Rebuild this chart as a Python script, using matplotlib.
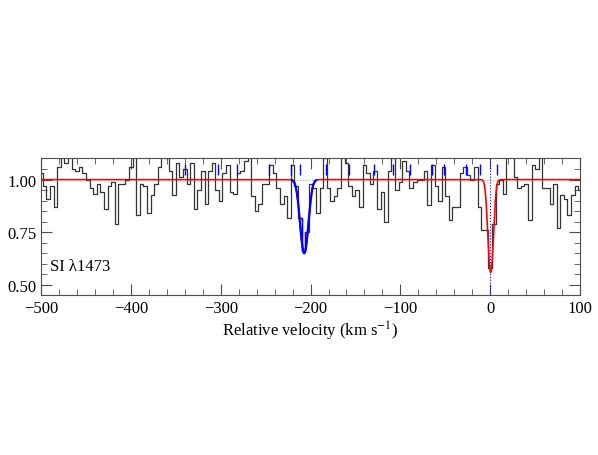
import numpy as np
import matplotlib
matplotlib.use("Agg")
import matplotlib.pyplot as plt
from matplotlib.ticker import MultipleLocator, FormatStrFormatter

plt.rcParams["font.family"] = ["Liberation Serif", "DejaVu Serif"]
plt.rcParams["mathtext.fontset"] = "stix"

# spectrum pixels, 4 km/s each (centres -500 ... 100)
velocity = np.arange(-500, 101, 4)
flux = [
    1.03, 0.97, 0.91, 0.97, 0.87, 1.06, 1.12, 1.08, 1.12, 1.05,
    1.04, 1.06, 1.03, 1.00, 0.96, 0.93, 0.98, 0.94, 0.86, 0.97,
    0.99, 0.79, 0.98, 0.98, 1.00, 1.06, 1.12, 0.83, 0.98, 0.97,
    0.84, 0.925, 0.98, 1.06, 1.12, 1.10, 1.04, 0.925, 1.08, 1.01,
    1.05, 0.98, 1.08, 0.86, 0.95, 1.04, 0.885, 1.04, 1.08, 0.95,
    0.90, 1.03, 1.07, 0.94, 0.93, 1.03, 1.04, 1.09, 1.12, 0.92,
    0.85, 0.885, 0.98, 0.98, 1.07, 1.03, 0.96, 0.885, 0.92, 0.82,
    1.07, 0.97, 0.82, 0.66, 0.75, 0.98, 0.96, 0.84, 0.96, 1.10,
    0.96, 0.90, 0.92, 0.96, 1.12, 1.08, 0.97, 0.92, 0.95, 0.87,
    1.07, 1.03, 0.98, 1.04, 0.86, 0.94, 0.80, 1.04, 1.10, 0.95,
    0.99, 1.09, 1.04, 0.96, 0.99, 1.00, 1.00, 1.04, 0.88, 1.07,
    0.97, 0.90, 1.06, 0.92, 0.81, 0.87, 0.87, 1.03, 1.06, 1.02,
    1.00, 1.06, 0.87, 0.76, 0.76, 0.58, 0.79, 0.98, 1.00, 0.93,
    1.12, 1.12, 1.01, 0.96, 0.97, 0.98, 0.81, 1.07, 1.05, 1.12,
    0.96, 0.96, 0.885, 0.98, 0.77, 0.925, 0.91, 0.83, 0.925, 0.97,
    0.95,
]
flux = np.array(flux)

# fitted components: centre (km/s), b (km/s), central optical depth
comp_v = [-207.0, 0.5]
comp_b = [6.0, 4.0]
comp_tau = [0.43, 0.58]
comp_color = ["blue", "red"]

# positions of the other transitions (blue tick marks)
tick_v = [-340.1, -302.6, -282.2, -246.2, -221.3, -211.5, -182.6, -156.7,
          -129.9, -108.2, -89.3, -64.9, -51.2, -26.7, -11.1, 7.2]

fig = plt.figure(figsize=(5.98, 4.56), dpi=100)
ax = fig.add_axes([0.0686, 0.3515, 0.9014, 0.2992])

ax.step(velocity, flux, where="mid", color="0.2", lw=0.9)

# blue component region: data in blue
sel = (velocity >= -212) & (velocity <= -204)
ax.step(velocity[sel], flux[sel], where="mid", color="blue", lw=1.0)

vfine = np.linspace(-500, 100, 3001)
tau_tot = np.zeros_like(vfine)
for v0, b, t0 in zip(comp_v, comp_b, comp_tau):
    tau_tot += t0 * np.exp(-((vfine - v0) / b) ** 2)
ax.plot(vfine, np.exp(-tau_tot), color="red", lw=1.2, zorder=3)

for v0, b, t0, c in zip(comp_v, comp_b, comp_tau, comp_color):
    win = np.abs(vfine - v0) < 2.0 * b
    ax.plot(vfine[win], np.ones(win.sum()), color="0.6", lw=0.8, ls=":", zorder=2)
    if c == "blue":
        prof = np.exp(-t0 * np.exp(-((vfine - v0) / b) ** 2))
        w2 = np.abs(vfine - v0) < 2.2 * b
        ax.plot(vfine[w2], prof[w2], color="blue", lw=1.6, zorder=4)

ax.vlines(tick_v, 1.02, 1.075, color="blue", lw=1.0)
ax.axvline(0, color="blue", lw=0.8, ls=":")

ax.text(-490, 0.588, "SI λ1473", fontsize=12, va="center", ha="left")

ax.set_xlim(-500, 100)
ax.set_ylim(0.454, 1.101)
ax.xaxis.set_major_locator(MultipleLocator(100))
ax.xaxis.set_minor_locator(MultipleLocator(20))
ax.yaxis.set_major_locator(MultipleLocator(0.25))
ax.yaxis.set_minor_locator(MultipleLocator(0.05))
ax.yaxis.set_major_formatter(FormatStrFormatter("%.2f"))
ax.tick_params(which="both", direction="in", top=True, right=True,
               labelsize=12, color="0.3")
ax.tick_params(which="major", length=8)
ax.tick_params(which="minor", length=4)
for s in ax.spines.values():
    s.set_color("0.3")
ax.set_xlabel(r"Relative velocity (km s$^{-1}$)", fontsize=12, labelpad=2)

fig.savefig("out.png", dpi=100)
